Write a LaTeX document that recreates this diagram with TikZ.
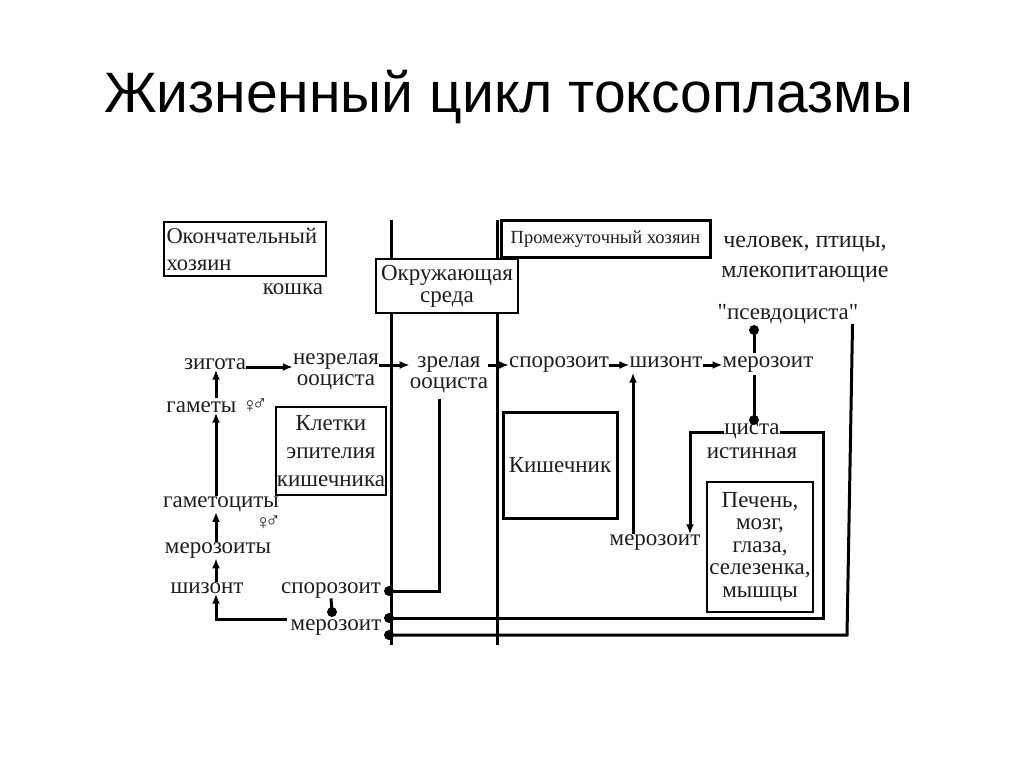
\documentclass[tikz,border=0pt]{standalone}
\usepackage{fontspec}
\setmainfont{Liberation Serif}
\newfontfamily\titlefont{Liberation Sans}
\usetikzlibrary{arrows.meta}
\definecolor{ink}{RGB}{30,30,30}
\newcommand{\lblfont}{\fontsize{23}{21}\selectfont}
\newcommand{\sexsign}{{\fontsize{21}{21}\selectfont ♀\kern-6pt\raisebox{2pt}{♂}}}
\tikzset{
	lbl/.style={text=ink, inner sep=0pt, font=\lblfont, align=center, anchor=mid},
	box/.style={draw=black, line width=2pt, fill=white, text=ink, inner sep=0pt, align=center, font=\lblfont},
	wire/.style={draw=black, line width=3pt},
	wirearr/.style={wire, -{Latex[length=10pt,width=8pt]}},
	blob/.style={circle, fill=black, inner sep=0pt, minimum size=10pt},
}
\begin{document}
\begin{tikzpicture}[x=1pt, y=-1pt]
	\useasboundingbox[fill=white] (0,0) rectangle (1024,767);
	\node[anchor=base, text=black, font=\titlefont\fontsize{57}{57}\selectfont] (title) at (509,113) {Жизненный цикл токсоплазмы};
	\coordinate (wallAtop) at (391,220);
	\coordinate (wallAbot) at (391,645);
	\coordinate (wallBtop) at (497,220);
	\coordinate (wallBbot) at (497,645);
	\draw[wire] (wallAtop) -- (wallAbot);
	\draw[wire] (wallBtop) -- (wallBbot);
	\node[box, anchor=north west, minimum width=162pt, minimum height=54pt, text width=157pt, align=left, font=\fontsize{22.5}{27}\selectfont] (finalhost) at (163,221) {Окончательный\\хозяин};
	\node[lbl] (cat) at (293,292) {кошка};
	\node[box, minimum width=142pt, minimum height=54pt, font=\fontsize{23}{22}\selectfont] (envbox) at (447,286) {Окружающая\\среда};
	\node[box, line width=3pt, minimum width=209pt, minimum height=36pt, font=\fontsize{18.5}{20}\selectfont] (interhost) at (605.5,239) {Промежуточный хозяин};
	\node[lbl, anchor=center, font=\fontsize{24}{30}\selectfont] (hosts) at (805,259) {человек, птицы,\\млекопитающие};
	\node[lbl] (pseudo) at (788,317) {\textquotedbl псевдоциста\textquotedbl};
	\node[lbl] (zyg) at (215,367) {зигота};
	\node[lbl, anchor=center] (immat) at (336,372) {незрелая\\ооциста};
	\node[lbl, anchor=center] (mat) at (449,375) {зрелая\\ооциста};
	\node[lbl] (spz) at (559,365) {спорозоит};
	\node[lbl] (shz) at (666,365) {шизонт};
	\node[lbl] (mrz) at (768,365) {мерозоит};
	\node[lbl] (cyst) at (752,432) {циста};
	\node[lbl] (cystb) at (752,456) {истинная};
	\node[lbl] (mrzB) at (655,543) {мерозоит};
	\node[lbl] (gam) at (217,410) {гаметы \sexsign};
	\node[box, minimum width=110pt, minimum height=88pt, font=\fontsize{23}{28}\selectfont] (epith) at (331,451) {Клетки\\эпителия\\кишечника};
	\node[box, line width=3pt, minimum width=114pt, minimum height=106pt] (gut) at (560,465) {Кишечник};
	\node[box, line width=2.5pt, minimum width=106pt, minimum height=130pt, font=\fontsize{23}{22.5}\selectfont] (organs) at (760,547) {Печень,\\мозг,\\глаза,\\селезенка,\\мышцы};
	\node[lbl] (gmc) at (221,505) {гаметоциты};
	\node[lbl] (sexB) at (268,527) {\sexsign};
	\node[lbl] (mrzs) at (218,551) {мерозоиты};
	\node[lbl] (shzL) at (207,591) {шизонт};
	\node[lbl] (spzL) at (331,591) {спорозоит};
	\node[lbl] (mrzL) at (336,628) {мерозоит};
	\node[blob] (dotS) at (389,591) {};
	\node[blob] (dotM1) at (389,618) {};
	\node[blob] (dotM2) at (389,635) {};
	\node[blob] (dotP) at (754,330) {};
	\node[blob] (dotC) at (754,420) {};
	\node[blob] (dotL) at (332,612) {};
	\coordinate (col) at (216,0);
	\coordinate (upB) at ([xshift=-22pt]mrzB.north);
	\coordinate (cornerC) at (823,618);
	\coordinate (cornerP) at (847,635);
	\draw[wirearr] (zyg.mid east) -- (zyg.mid east -| immat.west);
	\draw[wirearr] (immat.east |- spz.mid) -- (mat.west |- spz.mid);
	\draw[wirearr] (mat.east |- spz.mid) -- (spz.mid west);
	\draw[wirearr] (spz.mid east) -- (shz.mid west);
	\draw[wirearr] (shz.mid east) -- (mrz.mid west);
	\draw[wire, shorten >=3pt] (dotP.center) -- (dotP |- mrz.north);
	\draw[wire, shorten >=3pt] (dotC.center) -- (dotC |- mrz.south);
	\draw[wirearr] (cyst.mid west) -| ([xshift=35pt]mrzB.north);
	\draw[wire] (cyst.mid east) -| (cornerC) -- (dotM1.center);
	\draw[wire] ([xshift=-6pt]pseudo.south east) -- (cornerP) -- (dotM2.center);
	\draw[wirearr, shorten >=5pt] (upB) -- (upB |- shz.south);
	\draw[wire] (dotS.center) -| ([xshift=-10pt,yshift=-6pt]mat.south);
	\draw[wire] (spzL.south) -- (dotL.center);
	\draw[wirearr] ([xshift=-4pt,yshift=8pt]mrzL.west) -| (col |- shzL.south);
	\draw[wirearr] (col |- shzL.north) -- (col |- mrzs.south);
	\draw[wirearr] (col |- mrzs.north) -- (col |- gmc.south);
	\draw[wirearr] (col |- gmc.north) -- (col |- gam.south);
	\draw[wirearr] (col |- gam.north) -- (col |- zyg.south);
\end{tikzpicture}
\end{document}
